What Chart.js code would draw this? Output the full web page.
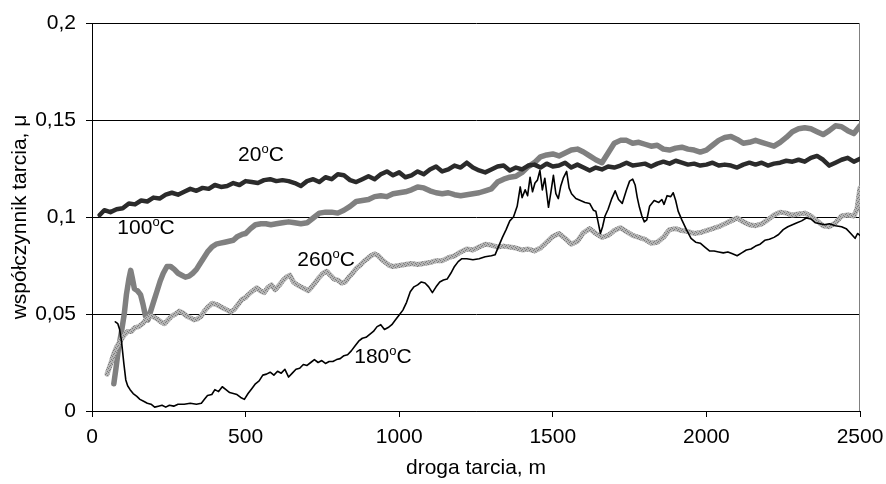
<!DOCTYPE html>
<html>
<head>
<meta charset="utf-8">
<script src="https://cdn.jsdelivr.net/npm/chart.js@4"></script>
<style>
  html, body { margin: 0; padding: 0; background: #fff; }
  canvas { display: block; }
</style>
</head>
<body>
<canvas id="chart" width="886" height="484"></canvas>
<script>
// friction distance (m) and friction coefficient for each temperature
const dist20 = [25,40,60,80,100,120,140,160,180,200,220,240,260,280,300,320,340,360,380,400,420,440,460,480,500,520,540,560,580,600,620,640,660,680,700,720,740,760,780,800,820,840,860,880,900,920,940,960,980,1000,1020,1040,1060,1080,1100,1120,1140,1160,1180,1200,1220,1240,1260,1280,1300,1320,1340,1360,1380,1400,1420,1440,1460,1480,1500,1520,1540,1560,1580,1600,1620,1640,1660,1680,1700,1720,1740,1760,1780,1800,1820,1840,1860,1880,1900,1920,1940,1960,1980,2000,2020,2040,2060,2080,2100,2120,2140,2160,2180,2200,2220,2240,2260,2280,2300,2320,2340,2360,2380,2400,2420,2440,2460,2480,2500];
const mu20 = [0.101,0.1035,0.1025,0.104,0.1045,0.107,0.1065,0.1085,0.108,0.110,0.1095,0.1115,0.1125,0.1115,0.113,0.1145,0.1135,0.115,0.1145,0.1165,0.1155,0.116,0.1175,0.1165,0.1185,0.118,0.1175,0.119,0.1195,0.1185,0.119,0.1185,0.1175,0.116,0.1185,0.1195,0.118,0.1205,0.1195,0.122,0.1215,0.119,0.118,0.1195,0.121,0.1195,0.122,0.1235,0.1215,0.123,0.1205,0.1215,0.1235,0.122,0.1245,0.126,0.1235,0.1245,0.1265,0.1255,0.128,0.1255,0.124,0.123,0.1245,0.126,0.1265,0.124,0.1255,0.1245,0.1265,0.127,0.1255,0.1275,0.126,0.1265,0.128,0.1255,0.127,0.1255,0.124,0.1255,0.1245,0.126,0.1255,0.1265,0.128,0.1265,0.127,0.1275,0.126,0.1275,0.1285,0.1275,0.129,0.128,0.127,0.1275,0.1265,0.127,0.128,0.1265,0.127,0.1265,0.1255,0.127,0.128,0.127,0.128,0.1265,0.1275,0.128,0.129,0.1285,0.1295,0.1285,0.1305,0.1315,0.1295,0.1265,0.128,0.1295,0.1305,0.1285,0.130];

const dist100 = [71,78,86,95,105,112,120,126,132,138,148,158,166,174,182,192,202,212,222,232,244,256,268,280,292,304,316,328,340,352,364,376,390,404,418,432,446,460,474,488,500,516,532,550,566,582,600,620,640,660,680,700,720,740,760,780,800,820,840,860,880,900,920,940,960,980,1000,1020,1040,1060,1080,1100,1120,1140,1160,1180,1200,1220,1240,1260,1280,1300,1320,1340,1360,1380,1400,1420,1440,1460,1480,1500,1520,1540,1560,1580,1600,1620,1640,1660,1680,1700,1720,1740,1760,1780,1800,1820,1840,1860,1880,1900,1920,1940,1960,1980,2000,2020,2040,2060,2080,2100,2120,2140,2160,2180,2200,2220,2240,2260,2280,2300,2320,2340,2360,2380,2400,2420,2440,2460,2480,2500];
const mu100 = [0.014,0.022,0.032,0.040,0.050,0.060,0.068,0.0725,0.068,0.063,0.062,0.060,0.055,0.049,0.047,0.052,0.057,0.062,0.067,0.071,0.0745,0.0745,0.073,0.071,0.070,0.069,0.0695,0.071,0.073,0.076,0.079,0.082,0.0845,0.086,0.0865,0.087,0.0875,0.088,0.090,0.091,0.0915,0.094,0.096,0.0965,0.0965,0.096,0.0965,0.097,0.0975,0.097,0.0965,0.097,0.0995,0.102,0.1025,0.1025,0.102,0.1035,0.1055,0.108,0.1085,0.109,0.1105,0.111,0.1105,0.112,0.1125,0.113,0.114,0.1155,0.115,0.1135,0.1125,0.112,0.1125,0.1115,0.111,0.1115,0.112,0.1125,0.1135,0.1145,0.118,0.1195,0.1205,0.121,0.123,0.126,0.128,0.131,0.132,0.1325,0.1315,0.133,0.1345,0.135,0.1335,0.1315,0.1295,0.128,0.133,0.138,0.1395,0.1395,0.138,0.1385,0.1375,0.1365,0.137,0.135,0.1345,0.1355,0.136,0.135,0.1345,0.1335,0.1345,0.137,0.1395,0.141,0.1415,0.140,0.138,0.1385,0.1395,0.1385,0.1375,0.1365,0.1385,0.141,0.144,0.1455,0.146,0.1455,0.144,0.1425,0.1445,0.147,0.1465,0.1445,0.143,0.147];

const dist260 = [49,60,70,80,92,104,116,128,140,152,164,176,188,200,212,224,236,248,260,272,284,296,308,320,332,344,356,368,380,392,404,416,428,440,452,464,476,488,500,512,524,536,548,560,572,584,596,608,620,632,644,656,668,680,692,704,716,728,740,752,764,776,788,800,812,824,836,848,860,872,884,896,908,920,932,944,956,968,980,1000,1020,1040,1060,1080,1100,1120,1140,1160,1180,1200,1220,1240,1260,1280,1300,1320,1340,1360,1380,1400,1420,1440,1460,1480,1500,1520,1540,1560,1580,1600,1620,1640,1660,1680,1700,1720,1740,1760,1780,1800,1820,1840,1860,1880,1900,1920,1940,1960,1980,2000,2020,2040,2060,2080,2100,2120,2140,2160,2180,2200,2220,2240,2260,2280,2300,2320,2340,2360,2380,2400,2420,2440,2460,2480,2490,2500];
const mu260 = [0.019,0.024,0.029,0.033,0.036,0.039,0.041,0.041,0.043,0.0435,0.045,0.047,0.049,0.0485,0.0475,0.046,0.045,0.047,0.049,0.050,0.0515,0.0505,0.049,0.048,0.047,0.0475,0.049,0.052,0.054,0.0555,0.055,0.054,0.053,0.052,0.051,0.0525,0.055,0.0575,0.0585,0.0605,0.062,0.0635,0.062,0.061,0.0635,0.065,0.0625,0.0645,0.067,0.069,0.070,0.0665,0.065,0.064,0.063,0.062,0.064,0.0665,0.069,0.071,0.072,0.070,0.068,0.0675,0.066,0.0665,0.069,0.071,0.0735,0.075,0.077,0.0785,0.080,0.081,0.080,0.078,0.0765,0.075,0.0745,0.075,0.0755,0.076,0.0755,0.076,0.0765,0.0775,0.0775,0.079,0.080,0.082,0.0835,0.083,0.0845,0.086,0.0855,0.0845,0.085,0.0845,0.084,0.083,0.0835,0.0825,0.084,0.087,0.090,0.0915,0.089,0.086,0.0875,0.092,0.094,0.0915,0.0895,0.0905,0.093,0.0945,0.0925,0.0905,0.0895,0.0885,0.0865,0.087,0.0895,0.0935,0.094,0.093,0.0925,0.0915,0.092,0.093,0.094,0.095,0.0965,0.098,0.0995,0.0975,0.096,0.0955,0.0965,0.0985,0.101,0.1025,0.102,0.101,0.1015,0.102,0.1005,0.098,0.0955,0.095,0.097,0.1005,0.101,0.1005,0.104,0.115];

const dist180 = [76,84,90,96,100,104,110,116,124,134,146,156,168,180,192,204,216,228,240,252,266,280,300,320,340,356,366,376,390,400,412,424,436,448,460,472,484,496,508,520,532,544,556,568,580,592,604,616,628,640,652,664,676,688,700,712,724,736,748,760,772,784,796,808,820,832,844,856,868,880,892,904,916,928,940,952,964,976,988,1000,1012,1024,1036,1048,1060,1072,1084,1096,1108,1120,1132,1144,1156,1168,1180,1192,1204,1220,1240,1260,1280,1300,1312,1324,1336,1348,1360,1372,1384,1394,1400,1410,1418,1426,1434,1442,1450,1458,1466,1474,1486,1494,1502,1510,1518,1526,1534,1545,1553,1561,1575,1590,1605,1620,1632,1640,1648,1655,1662,1670,1680,1692,1703,1714,1726,1740,1750,1760,1768,1775,1782,1790,1798,1806,1815,1830,1845,1855,1862,1872,1884,1892,1900,1908,1920,1935,1950,1965,1980,1995,2010,2025,2040,2055,2070,2085,2100,2115,2130,2145,2160,2175,2190,2205,2220,2235,2250,2265,2280,2295,2310,2325,2340,2355,2370,2385,2400,2420,2440,2455,2470,2484,2492,2500];
const mu180 = [0.046,0.045,0.042,0.036,0.030,0.024,0.016,0.013,0.011,0.009,0.0075,0.006,0.005,0.004,0.0035,0.002,0.0025,0.003,0.002,0.003,0.0025,0.0035,0.0035,0.004,0.0035,0.004,0.006,0.008,0.0085,0.011,0.010,0.0125,0.011,0.0095,0.009,0.0085,0.007,0.006,0.009,0.0115,0.014,0.0155,0.0185,0.019,0.020,0.0185,0.0205,0.0195,0.0215,0.0175,0.0195,0.0215,0.022,0.024,0.0235,0.025,0.0265,0.025,0.026,0.0245,0.0255,0.0255,0.0265,0.027,0.0285,0.029,0.031,0.0335,0.036,0.0375,0.038,0.0395,0.041,0.0435,0.0445,0.042,0.043,0.0445,0.047,0.0495,0.052,0.056,0.0615,0.064,0.065,0.0665,0.066,0.064,0.061,0.064,0.0665,0.0675,0.068,0.071,0.0745,0.077,0.0785,0.0785,0.078,0.0785,0.0795,0.080,0.0805,0.085,0.0895,0.0935,0.098,0.100,0.1055,0.1155,0.110,0.114,0.111,0.1205,0.113,0.1175,0.119,0.124,0.114,0.120,0.105,0.113,0.1215,0.112,0.1095,0.116,0.120,0.1235,0.115,0.112,0.1095,0.1085,0.1075,0.107,0.1035,0.103,0.097,0.0915,0.095,0.1005,0.104,0.1095,0.1135,0.109,0.107,0.114,0.1185,0.1195,0.1165,0.110,0.105,0.1005,0.0975,0.0985,0.1055,0.1085,0.1075,0.109,0.1065,0.111,0.1105,0.1125,0.1085,0.103,0.0985,0.0935,0.089,0.087,0.0865,0.0845,0.0825,0.0825,0.082,0.0815,0.082,0.081,0.080,0.0815,0.083,0.0835,0.085,0.086,0.088,0.0885,0.0895,0.091,0.0935,0.095,0.096,0.097,0.098,0.0995,0.099,0.097,0.0965,0.096,0.0965,0.0955,0.095,0.094,0.0915,0.089,0.0915,0.0905];

// curve labels: temperature text and where it sits (data units)
const curveLabels = ['20', '100', '260', '180'];
const curveLabelX = [550, 176, 762, 947];
const curveLabelY = [0.1317, 0.0941, 0.0777, 0.0278];

const FONT = '"Liberation Sans", Arial, Helvetica, sans-serif';

function pts(xs, ys) {
  return xs.map((x, i) => ({ x, y: ys[i] }));
}

// speckled grey texture used for the 260 °C trace
function speckle() {
  const c = document.createElement('canvas');
  c.width = 4;
  c.height = 4;
  const g = c.getContext('2d');
  g.fillStyle = '#b4b4b4';
  g.fillRect(0, 0, 4, 4);
  g.fillStyle = '#7c7c7c';
  g.fillRect(0, 0, 1, 1);
  g.fillRect(2, 1, 1, 1);
  g.fillRect(1, 2, 1, 1);
  g.fillRect(3, 3, 1, 1);
  return g.createPattern(c, 'repeat');
}

const curveLabelPlugin = {
  id: 'curveLabels',
  afterDatasetsDraw(chart) {
    const { ctx, scales: { x, y } } = chart;
    ctx.save();
    ctx.fillStyle = '#000';
    ctx.textBaseline = 'middle';
    ctx.textAlign = 'left';
    curveLabels.forEach((t, i) => {
      const big = '21px ' + FONT;
      const small = '13px ' + FONT;
      ctx.font = big;
      const w1 = ctx.measureText(t).width;
      const w3 = ctx.measureText('C').width;
      ctx.font = small;
      const w2 = ctx.measureText('o').width;
      const cx = x.getPixelForValue(curveLabelX[i]);
      const cy = y.getPixelForValue(curveLabelY[i]);
      let px = cx - (w1 + w2 + w3) / 2;
      ctx.font = big;
      ctx.fillText(t, px, cy);
      px += w1;
      ctx.font = small;
      ctx.fillText('o', px, cy - 6);
      px += w2;
      ctx.font = big;
      ctx.fillText('C', px, cy);
    });
    ctx.restore();
  },
};

const frameRight = {
  id: 'frameRight',
  beforeDatasetsDraw(chart) {
    const { ctx, chartArea: a } = chart;
    ctx.save();
    ctx.strokeStyle = '#808080';
    ctx.lineWidth = 1;
    ctx.beginPath();
    ctx.moveTo(Math.round(a.right) - 0.5, a.top);
    ctx.lineTo(Math.round(a.right) - 0.5, a.bottom);
    ctx.stroke();
    ctx.restore();
  },
};

const lineStyle = {
  pointRadius: 0,
  tension: 0,
  fill: false,
  borderJoinStyle: 'round',
  borderCapStyle: 'round',
};

new Chart(document.getElementById('chart'), {
  type: 'line',
  data: {
    datasets: [
      { ...lineStyle, label: '180', data: pts(dist180, mu180), borderColor: '#000', borderWidth: 1.6 },
      { ...lineStyle, label: '20', data: pts(dist20, mu20), borderColor: '#2b2b2b', borderWidth: 4.5 },
      { ...lineStyle, label: '260', data: pts(dist260, mu260), borderColor: speckle(), borderWidth: 5 },
      { ...lineStyle, label: '100', data: pts(dist100, mu100), borderColor: '#808080', borderWidth: 5.5 },
    ],
  },
  options: {
    responsive: false,
    animation: false,
    devicePixelRatio: 1,
    layout: { padding: { left: 0, right: 26, top: 23, bottom: 0 } },
    plugins: { legend: { display: false }, tooltip: { enabled: false } },
    scales: {
      x: {
        type: 'linear',
        min: 0,
        max: 2500,
        afterFit(scale) {
          scale.height = 73;
          scale.paddingLeft = 0;
          scale.paddingRight = 0;
        },
        ticks: {
          stepSize: 500,
          color: '#000',
          padding: 8,
          font: { family: FONT, size: 21 },
          callback: (v) => String(v),
        },
        grid: { drawOnChartArea: false, tickLength: 6, color: '#000' },
        border: { color: '#000', width: 1 },
        title: { display: true, text: 'droga tarcia, m', color: '#000', padding: { top: 0, bottom: 3 }, font: { family: FONT, size: 21 } },
      },
      y: {
        min: 0,
        max: 0.2,
        afterFit(scale) { scale.width = 92; },
        ticks: {
          stepSize: 0.05,
          color: '#000',
          padding: 10,
          font: { family: FONT, size: 21 },
          callback: (v) => String(Math.round(v * 100) / 100).replace('.', ','),
        },
        grid: { color: '#000', tickLength: 6, lineWidth: 1 },
        border: { color: '#000', width: 1 },
        title: { display: true, text: 'współczynnik tarcia, μ', color: '#000', padding: { top: 8, bottom: 0 }, font: { family: FONT, size: 21 } },
      },
    },
  },
  plugins: [frameRight, curveLabelPlugin],
});
</script>
</body>
</html>
